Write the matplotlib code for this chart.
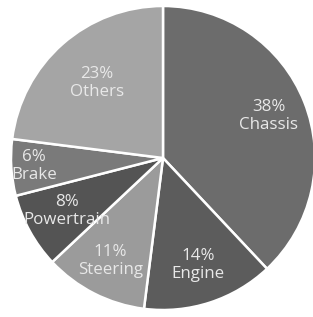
import numpy as np
import matplotlib.pyplot as plt

# slices, clockwise from 12 o'clock
labels = ['Chassis', 'Engine', 'Steering', 'Powertrain', 'Brake', 'Others']
shares = [38, 14, 11, 8, 6, 23]
colors = ['#6c6c6c', '#5c5c5c', '#9b9b9b', '#545454', '#7a7a7a', '#a5a5a5']

plt.rcParams['font.family'] = ['Open Sans', 'DejaVu Sans']

fig = plt.figure(figsize=(3.13, 3.17), dpi=100)
ax = fig.add_axes([0, 0, 1, 1])

wedges, _ = ax.pie(shares, colors=colors, startangle=90, counterclock=False,
                   radius=1.0,
                   wedgeprops=dict(edgecolor='white', linewidth=1.8))

# label distance per slice (Brake sits further out)
dist = [0.75, 0.74, 0.76, 0.72, 0.85, 0.66]
for w, lab, s, d in zip(wedges, labels, shares, dist):
    ang = np.deg2rad((w.theta1 + w.theta2) / 2)
    ax.text(d * np.cos(ang), d * np.sin(ang), f'{s}%\n{lab}',
            ha='center', va='center', color='#e8e8e8', fontsize=12.2,
            linespacing=1.15)

# centre at (163, 158) px, radius 152 px
r = 152.0
ax.set_xlim(-163 / r, (313 - 163) / r)
ax.set_ylim(-(317 - 158) / r, 158 / r)
ax.set_aspect('auto')
ax.axis('off')

fig.savefig('out.png', dpi=100, facecolor='white')
